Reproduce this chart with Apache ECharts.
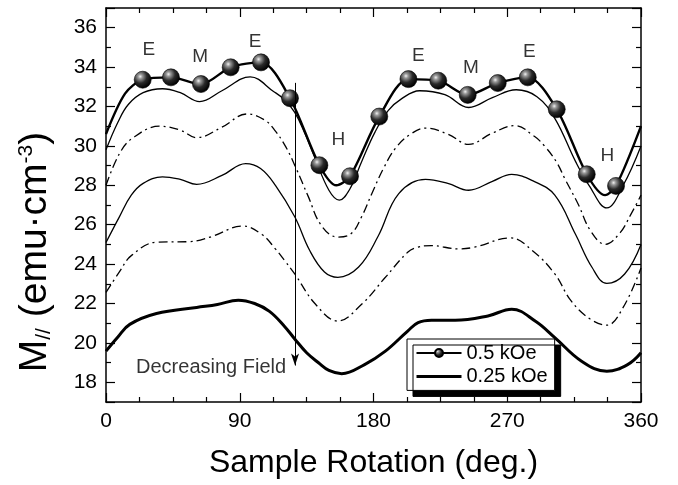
<!DOCTYPE html>
<html><head><meta charset="utf-8">
<script src="https://cdn.jsdelivr.net/npm/echarts@6/dist/echarts.min.js"></script>
<style>html,body{margin:0;padding:0;background:#fff}#c{width:678px;height:485px}</style>
</head><body><div id="c"></div>
<script>
const FONT = '"Liberation Sans", Arial, Helvetica, sans-serif';

// Axis settings (values)
const xRange = [0, 360];
const xTickStep = 90;
const yRange = [17, 37];

// 0.5 kOe: measured points (shown with markers)
const field05Markers = [
  [24.7, 33.36], [43.7, 33.48], [63.9, 33.14], [83.9, 33.99], [104.3, 34.24],
  [123.8, 32.42], [143.6, 29.02], [164.2, 28.46], [183.9, 31.49], [203.5, 33.39],
  [223.6, 33.31], [243.4, 32.59], [263.6, 33.19], [283.8, 33.48], [303.3, 31.86],
  [323.5, 28.56], [343.2, 27.97]
];
// 0.5 kOe: extra line points (no markers)
const field05LineOnly = [[0, 30.6], [12.8, 32.65], [155, 28.0], [335.8, 27.5], [360, 31.0]];

// Intermediate fields (no legend entries)
const curveA = [[0,29.8],[8,31.2],[15,32.1],[25,32.7],[38,32.9],[50,32.7],[63,32.25],[78,32.8],[97,33.5],[113,32.75],[120,32.35],[127,31.7],[134,30.6],[140,29.5],[150,27.75],[157,27.25],[164,27.8],[172,29.2],[181,30.7],[190,31.8],[199,32.4],[211,32.8],[228,32.6],[244,31.95],[260,32.45],[276,32.85],[290,32.5],[302,31.4],[316,29.2],[325,28.0],[337,26.85],[348,28.0],[360,30.0]];
const curveB = [[0,28.0],[9,29.6],[18,30.4],[36,31.0],[50,30.8],[61,30.42],[78,30.95],[95,31.62],[107,31.3],[114,30.75],[121,29.95],[128,28.85],[136,27.45],[145,25.95],[156,25.37],[165,25.55],[172,26.4],[179,27.6],[187,28.9],[195,29.9],[205,30.6],[215,30.9],[230,30.6],[244,30.08],[260,30.65],[275,31.03],[288,30.5],[295,30.0],[303,29.2],[309,28.3],[318,27.0],[326,25.7],[336,25.0],[346,25.6],[353,26.5],[360,27.5]];
const curveC = [[0,25.1],[9,26.4],[17,27.5],[25,28.1],[38,28.43],[50,28.3],[61,28.05],[78,28.5],[94,29.1],[104,28.85],[114,28.0],[127,26.4],[137,24.7],[147,23.6],[156,23.33],[170,23.85],[183,25.4],[197,27.58],[215,28.3],[230,28.1],[244,27.75],[260,28.2],[273,28.55],[288,28.2],[302,27.5],[316,25.5],[327,23.84],[337,23.02],[349,23.5],[360,25.0]];
const curveD = [[0,22.56],[9,23.6],[17,24.43],[34,25.11],[56,25.14],[70,25.37],[92,25.93],[105,25.5],[114,24.77],[120,24.2],[127,23.5],[141,21.96],[156,21.11],[172,21.96],[188,23.33],[203,24.6],[210,24.86],[219,24.94],[237,24.77],[248,24.86],[272,25.33],[287,24.68],[302,23.5],[313,22.13],[326,21.2],[337,20.9],[348,21.8],[360,23.8]];
// 0.25 kOe
const field025 = [[0,19.58],[8,20.3],[16,20.94],[34,21.49],[61,21.8],[75,21.95],[89,22.17],[100,22.0],[110,21.6],[120,20.85],[127,20.2],[135,19.5],[143,18.99],[150,18.6],[158.6,18.44],[174,18.9],[188,19.58],[203,20.6],[210,21.03],[219,21.15],[235,21.15],[257,21.37],[273,21.71],[289,21.1],[302,20.27],[320,19.07],[337,18.56],[351,18.9],[360,19.5]];

// Text annotations [label, angle, value]
const symmetryLabels = [
  ['E', 28.9, 34.89], ['M', 63.3, 34.5], ['E', 100.3, 35.28], ['H', 156.3, 30.3],
  ['E', 210.2, 34.55], ['M', 245.6, 33.95], ['E', 284.8, 34.8], ['H', 337.3, 29.48]
];
const arrowFrom = [127.2, 33.2];
const arrowTo = [127.2, 18.85];
const arrowText = ['Decreasing Field', 70.7, 18.73];

const seriesNames = ['0.5 kOe', '0.25 kOe'];

const ball = {
  type: 'radial', x: 0.36, y: 0.32, r: 0.68,
  colorStops: [
    { offset: 0, color: '#f2f2f2' },
    { offset: 0.18, color: '#9a9a9a' },
    { offset: 0.55, color: '#2a2a2a' },
    { offset: 1, color: '#000' }
  ]
};

const data05 = field05Markers.map(p => ({ value: p }))
  .concat(field05LineOnly.map(p => ({ value: p, symbol: 'none' })))
  .sort((a, b) => a.value[0] - b.value[0]);

const chart = echarts.init(document.getElementById('c'), null, { renderer: 'canvas' });

const axisCommon = {
  axisLine: { show: true, onZero: false, lineStyle: { color: '#000', width: 1.5 } },
  axisTick: { show: true, inside: true, length: 9, lineStyle: { color: '#000', width: 1.2 } },
  minorTick: { show: true, length: 5, lineStyle: { color: '#000', width: 1.2 } },
  splitLine: { show: false }
};

chart.setOption({
  backgroundColor: '#fff',
  animation: false,
  grid: { left: 106, right: 37, top: 8, bottom: 83 },
  legend: {
    data: [
      { name: seriesNames[0], lineStyle: { width: 1.8 } },
      { name: seriesNames[1], lineStyle: { width: 3 }, itemStyle: { color: 'rgba(0,0,0,0)', borderWidth: 0, opacity: 0 } }
    ],
    orient: 'vertical',
    left: 407, top: 339,
    padding: [4, 7, 4, 8],
    itemGap: 3.4,
    itemWidth: 45, itemHeight: 10,
    backgroundColor: '#fff',
    borderColor: '#000', borderWidth: 1, borderRadius: 0,
    shadowColor: '#000', shadowBlur: 0, shadowOffsetX: 6, shadowOffsetY: 6,
    textStyle: { fontFamily: FONT, fontSize: 20, color: '#000', lineHeight: 20 }
  },
  xAxis: [
    Object.assign({}, axisCommon, {
      type: 'value', min: xRange[0], max: xRange[1], interval: xTickStep,
      minorTick: Object.assign({}, axisCommon.minorTick, { splitNumber: 4 }),
      axisLabel: { fontFamily: FONT, fontSize: 21, color: '#000', margin: 9 },
      name: 'Sample Rotation (deg.)', nameLocation: 'middle', nameGap: 45,
      nameTextStyle: { fontFamily: FONT, fontSize: 32, color: '#000' }
    }),
    Object.assign({}, axisCommon, {
      type: 'value', position: 'top', min: xRange[0], max: xRange[1], interval: xTickStep,
      minorTick: Object.assign({}, axisCommon.minorTick, { splitNumber: 4 }),
      axisLabel: { show: false }
    })
  ],
  yAxis: [
    Object.assign({}, axisCommon, {
      type: 'value', min: yRange[0], max: yRange[1], splitNumber: 10,
      minorTick: Object.assign({}, axisCommon.minorTick, { splitNumber: 2 }),
      axisLabel: { fontFamily: FONT, fontSize: 21, color: '#000', margin: 9, showMinLabel: false, showMaxLabel: false }
    }),
    Object.assign({}, axisCommon, {
      type: 'value', position: 'right', min: yRange[0], max: yRange[1], splitNumber: 10,
      minorTick: Object.assign({}, axisCommon.minorTick, { splitNumber: 2 }),
      axisLabel: { show: false }
    })
  ],
  graphic: [{
    type: 'text', x: 35, y: 252, rotation: Math.PI / 2,
    style: {
      text: '{a|M}{b|//}{a| (emu·cm}{c|-3}{a|)}',
      align: 'center', verticalAlign: 'middle',
      rich: {
        a: { fontFamily: FONT, fontSize: 39, fill: '#000' },
        b: { fontFamily: FONT, fontSize: 21, fill: '#000', verticalAlign: 'bottom', padding: [14, 0, 0, 0] },
        c: { fontFamily: FONT, fontSize: 21, fill: '#000', verticalAlign: 'top', padding: [0, 0, 14, 0] }
      }
    }
  }],
  series: [
    { type: 'line', name: 'mid1', data: curveA, smooth: 0.4, showSymbol: false, silent: true,
      lineStyle: { color: '#000', width: 1.3 } },
    { type: 'line', name: 'mid2', data: curveB, smooth: 0.4, showSymbol: false, silent: true,
      lineStyle: { color: '#000', width: 1.3, type: [9, 4, 2, 4] } },
    { type: 'line', name: 'mid3', data: curveC, smooth: 0.4, showSymbol: false, silent: true,
      lineStyle: { color: '#000', width: 1.3 } },
    { type: 'line', name: 'mid4', data: curveD, smooth: 0.4, showSymbol: false, silent: true,
      lineStyle: { color: '#000', width: 1.3, type: [9, 4, 2, 4] } },
    { type: 'line', name: seriesNames[1], data: field025, smooth: 0.4, symbol: 'none',
      color: '#000', lineStyle: { color: '#000', width: 3 } },
    { type: 'line', name: seriesNames[0], data: data05, smooth: 0.3,
      symbol: 'circle', symbolSize: 17, showAllSymbol: true,
      color: '#000',
      itemStyle: { color: ball, borderColor: '#000', borderWidth: 0.6 },
      lineStyle: { color: '#000', width: 2.4 },
      markLine: {
        silent: true, animation: false,
        symbol: ['none', 'arrow'], symbolSize: [6, 12],
        label: { show: false },
        lineStyle: { color: '#000', width: 1, type: 'solid' },
        data: [[{ coord: arrowFrom }, { coord: arrowTo }]]
      }
    },
    { type: 'scatter', name: 'labels', silent: true, symbolSize: 0,
      data: symmetryLabels.map(d => ({ name: d[0], value: [d[1], d[2]] })).concat([{ name: arrowText[0], value: [arrowText[1], arrowText[2]], label: { fontSize: 20 } }]),
      label: { show: true, position: 'inside', formatter: p => p.name, fontFamily: FONT, fontSize: 19, color: '#000' }
    }
  ]
});
</script></body></html>
